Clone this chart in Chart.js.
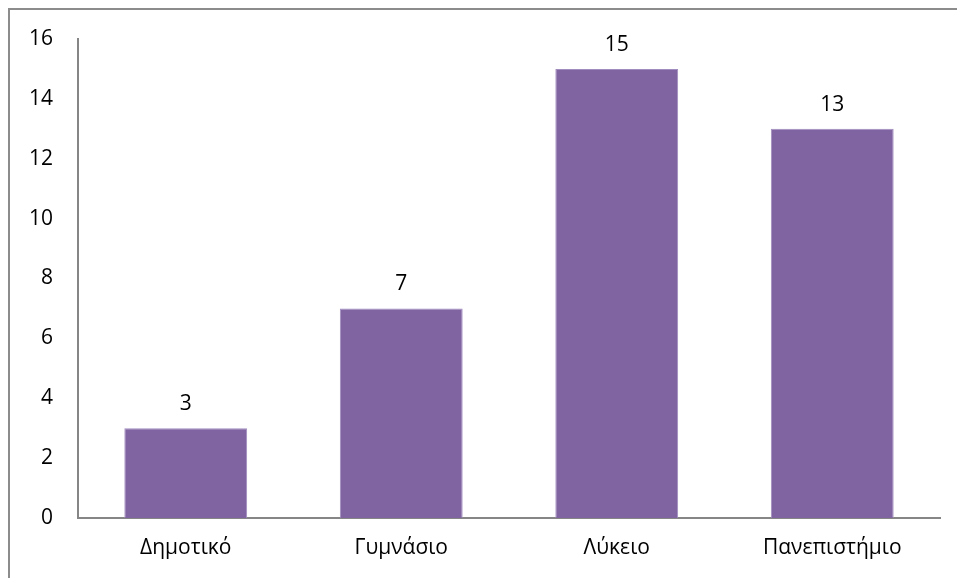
<!DOCTYPE html>
<html>
<head>
<meta charset="utf-8">
<script src="https://cdn.jsdelivr.net/npm/chart.js@4"></script>
<style>
  html, body { margin:0; padding:0; background:#fff; overflow:hidden; }
  #frame { position:absolute; left:8px; top:8px; width:1000px; height:700px; border:2px solid #8c8c8c; box-sizing:border-box; }
  #chart { position:absolute; left:0; top:0; }
</style>
</head>
<body>
<div id="frame"></div>
<canvas id="chart" width="957" height="578"></canvas>
<script>
// κατηγορίες και τιμές
const categories = ["Δημοτικό", "Γυμνάσιο", "Λύκειο", "Πανεπιστήμιο"];
const values = [3, 7, 15, 13];
const yTicks = [0, 2, 4, 6, 8, 10, 12, 14, 16];

const FONT = "'Open Sans', 'Noto Sans', sans-serif";

// ετικέτες τιμών πάνω από τις μπάρες
const valueLabels = {
  id: "valueLabels",
  afterDatasetsDraw(chart){
    const ctx = chart.ctx;
    const meta = chart.getDatasetMeta(0);
    ctx.save();
    ctx.font = "21px " + FONT;
    ctx.fillStyle = "#000";
    ctx.textAlign = "center";
    ctx.textBaseline = "middle";
    meta.data.forEach((bar, i)=>{
      ctx.fillText(String(values[i]), bar.x, bar.y - 24);
    });
    ctx.restore();
  }
};

new Chart(document.getElementById("chart").getContext("2d"), {
  type: "bar",
  data: {
    labels: categories,
    datasets: [{
      data: values,
      backgroundColor: "#8064A2",
      borderColor: "#a08cbf",
      borderWidth: 1,
      barPercentage: 0.57,
      categoryPercentage: 1
    }]
  },
  options: {
    responsive: false,
    animation: false,
    layout: { padding: { top: 39, right: 17, left: 0, bottom: 0 } },
    plugins: { legend: { display: false }, tooltip: { enabled: false } },
    scales: {
      x: {
        grid: { display: false, drawTicks: false },
        border: { color: "#868686", width: 2 },
        ticks: { color: "#000", font: { family: FONT, size: 21 }, padding: 17 },
        afterFit(scale){ scale.height = 60; }
      },
      y: {
        min: 0, max: 16,
        afterBuildTicks(scale){ scale.ticks = yTicks.map(v=>({ value: v })); },
        grid: { display: false, drawTicks: false },
        border: { color: "#868686", width: 2 },
        ticks: { color: "#000", font: { family: FONT, size: 21 }, padding: 25 },
        afterFit(scale){ scale.width = 78; }
      }
    }
  },
  plugins: [valueLabels]
});
</script>
</body>
</html>
